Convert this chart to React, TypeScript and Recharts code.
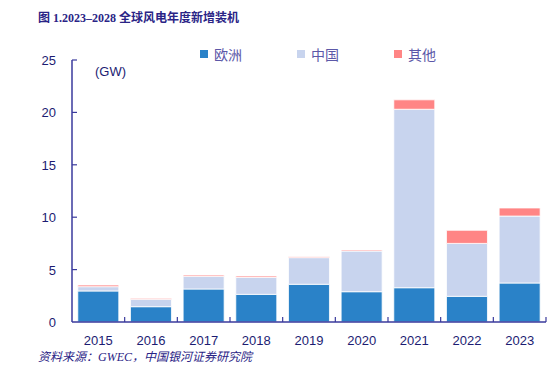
import React from "react";
import { BarChart, Bar, XAxis, YAxis } from "recharts";

const years = ["2015", "2016", "2017", "2018", "2019", "2020", "2021", "2022", "2023"];
const europe = [2.96, 1.46, 3.15, 2.64, 3.6, 2.89, 3.27, 2.45, 3.72];
const china = [0.41, 0.71, 1.21, 1.62, 2.54, 3.88, 17.03, 5.05, 6.39];
const other = [0.16, 0.09, 0.12, 0.13, 0.09, 0.1, 0.9, 1.25, 0.77];
const yTicks = [0, 5, 10, 15, 20, 25];

const data = years.map((y, i) => ({
  year: y,
  europe: europe[i],
  china: china[i],
  other: other[i],
}));

const W = 554;
const H = 382;
const LEFT = 72;
const RIGHT = 8;
const TOP = 60;
const BOTTOM = 322;
const AXIS = "#3a3a9c";
const TEXT = "#1c1c72";
const band = (W - LEFT - RIGHT) / years.length;

const legend = [
  { name: "欧洲", color: "#2a82c8" },
  { name: "中国", color: "#c8d4ee" },
  { name: "其他", color: "#ff8585" },
];

// eslint-disable-next-line @typescript-eslint/no-explicit-any
function YTick({ y, payload }: any) {
  return (
    <g>
      {payload.value !== 0 && (
        <line x1={LEFT} x2={LEFT + 5} y1={y} y2={y} stroke={AXIS} strokeWidth={1.2} />
      )}
      <text x={LEFT - 16} y={y} dy={5} textAnchor="end" fontSize={13} fill={TEXT}
        fontFamily="Liberation Sans, Arial, sans-serif">
        {payload.value}
      </text>
    </g>
  );
}

// eslint-disable-next-line @typescript-eslint/no-explicit-any
function XTick({ x, payload }: any) {
  const bx = x + band / 2;
  return (
    <g>
      <line x1={bx} x2={bx} y1={BOTTOM} y2={BOTTOM - 5} stroke={AXIS} strokeWidth={1.2} />
      <text x={x} y={BOTTOM + 23} textAnchor="middle" fontSize={13} fill={TEXT}
        fontFamily="Liberation Sans, Arial, sans-serif">
        {payload.value}
      </text>
    </g>
  );
}

export default function App() {
  return (
    <div style={{ position: "absolute", left: 0, top: 0, width: W, height: H, background: "#fff" }}>
      <div style={{
        position: "absolute", left: 38, top: 8, fontSize: 12, fontWeight: "bold",
        color: "#2a2486", fontFamily: "Liberation Serif, Noto Sans CJK SC, serif",
      }}>
        图 1.2023–2028 全球风电年度新增装机
      </div>
      {legend.map((l, i) => (
        <div key={l.name} style={{
          position: "absolute", left: 200 + i * 97, top: 44, display: "flex", alignItems: "center",
          fontSize: 14, color: "#5c58a8", fontFamily: "Noto Sans CJK SC, sans-serif",
        }}>
          <span style={{ width: 8, height: 8, background: l.color, display: "inline-block", marginRight: 6 }} />
          {l.name}
        </div>
      ))}
      <div style={{
        position: "absolute", left: 95, top: 64, fontSize: 13, color: TEXT,
        fontFamily: "Liberation Sans, Arial, sans-serif",
      }}>
        (GW)
      </div>
      <BarChart
        width={W}
        height={H}
        data={data}
        margin={{ top: TOP, right: RIGHT, left: 0, bottom: H - BOTTOM - 30 }}
        barCategoryGap="11%"
      >
        <XAxis
          dataKey="year"
          height={30}
          axisLine={{ stroke: AXIS, strokeWidth: 1.5 }}
          tickLine={false}
          tick={<XTick />}
          interval={0}
        />
        <YAxis
          width={LEFT}
          domain={[0, 25]}
          ticks={yTicks}
          axisLine={{ stroke: AXIS, strokeWidth: 1.5 }}
          tickLine={false}
          tick={<YTick />}
        />
        <Bar dataKey="europe" stackId="a" fill="#2a82c8" stroke="#fff" strokeWidth={0.8} isAnimationActive={false} />
        <Bar dataKey="china" stackId="a" fill="#c8d4ee" stroke="#fff" strokeWidth={0.8} isAnimationActive={false} />
        <Bar dataKey="other" stackId="a" fill="#ff8585" stroke="#fff" strokeWidth={0.8} isAnimationActive={false} />
      </BarChart>
      <div style={{
        position: "absolute", left: 38, top: 347, fontSize: 12, fontStyle: "italic",
        color: "#2a2486", fontFamily: "Liberation Serif, Noto Sans CJK SC, serif",
      }}>
        资料来源：GWEC，中国银河证券研究院
      </div>
    </div>
  );
}
